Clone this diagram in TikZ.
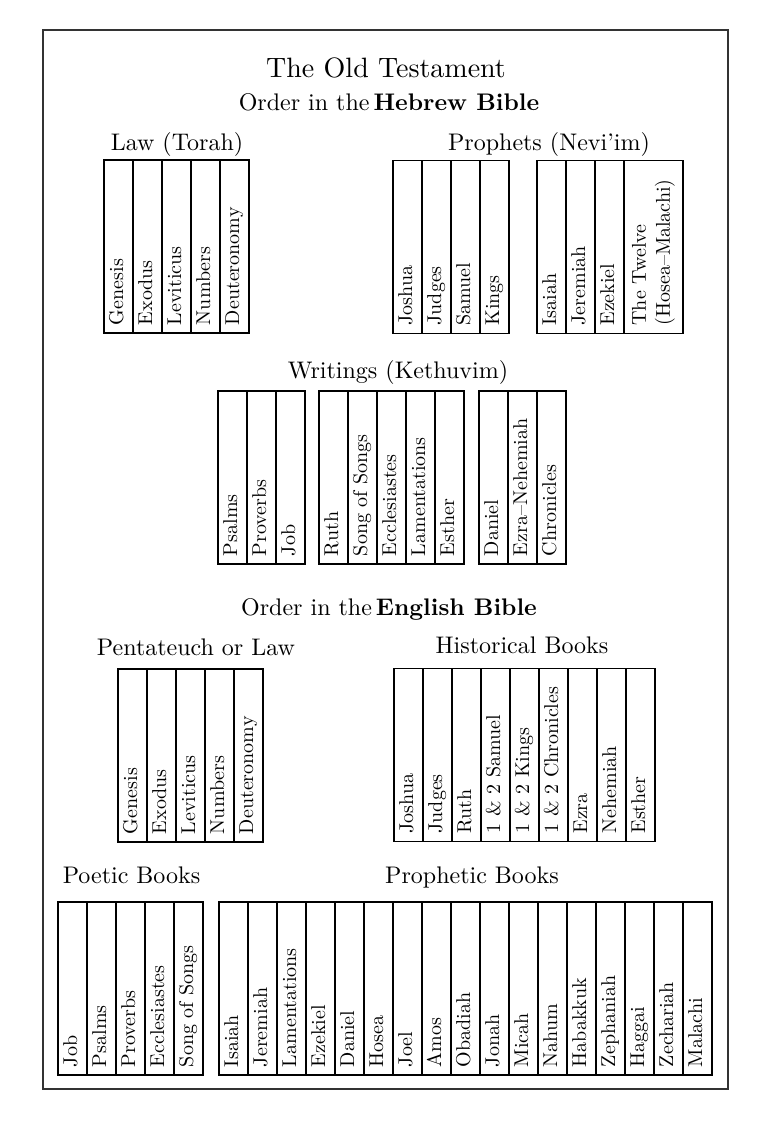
\documentclass[tikz,border=0pt]{standalone}
\usepackage{fontspec}
\setmainfont{lmroman10-regular.otf}[BoldFont=lmroman10-bold.otf]
\usepackage{tikz}

\tikzset{
  book/.style={draw, line width=1.5pt, rotate=90, minimum width=173pt, minimum height=29pt,
    inner xsep=8pt, inner ysep=0pt, text width=157pt, align=left,
    font=\fontsize{20}{24}\selectfont, text height=14pt, text depth=5pt},
  group/.style={anchor=base, font=\fontsize{24}{28}\selectfont}
}

\begin{document}
\begin{tikzpicture}[x=1pt, y=-1pt]
    \useasboundingbox (0,0) rectangle (771,1125);
    \draw[line width=1.8pt, black!80] (43,30) rectangle (728,1089);
    \node[anchor=base, font=\fontsize{28}{32}\selectfont] (title) at (386,77) {The Old Testament};
    \node[group] (hebrew) at (389,110) {Order in the\,\textbf{Hebrew Bible}};

    \node[group] (law) at (177,150) {Law (Torah)};
    \foreach \b [count=\i] in {Genesis,Exodus,Leviticus,Numbers,Deuteronomy}
        \node[book] (law\i) at ({104+29*\i-14.5},246.5) {\b};

    \node[group] (prophets) at (549,150) {Prophets (Nevi'im)};
    \foreach \b [count=\i] in {Joshua,Judges,Samuel,Kings}
        \node[book] (former\i) at ({393+29*\i-14.5},247) {\b};
    \foreach \b [count=\i] in {Isaiah,Jeremiah,Ezekiel}
        \node[book] (latter\i) at ({537+29*\i-14.5},247) {\b};
    \node[book, minimum height=59pt, text height={}, text depth={}] (latter4) at (653.5,247) {The Twelve\\(Hosea--Malachi)};

    \node[group] (writings) at (398,378) {Writings (Kethuvim)};
    \foreach \b [count=\i] in {Psalms,Proverbs,Job}
        \node[book] (poetry\i) at ({218+29*\i-14.5},477.5) {\b};
    \foreach \b [count=\i] in {Ruth,Song of Songs,Ecclesiastes,Lamentations,Esther}
        \node[book] (scroll\i) at ({319+29*\i-14.5},477.5) {\b};
    \foreach \b [count=\i] in {Daniel,Ezra--Nehemiah,Chronicles}
        \node[book] (other\i) at ({479+29*\i-14.5},477.5) {\b};

    \node[group] (english) at (389,615) {Order in the\,\textbf{English Bible}};

    \node[group] (penta) at (196,655) {Pentateuch or Law};
    \foreach \b [count=\i] in {Genesis,Exodus,Leviticus,Numbers,Deuteronomy}
        \node[book] (penta\i) at ({118+29*\i-14.5},755.5) {\b};

    \node[group] (history) at (522,653) {Historical Books};
    \foreach \b [count=\i] in {Joshua,Judges,Ruth,1 \& 2 Samuel,1 \& 2 Kings,1 \& 2 Chronicles,Ezra,Nehemiah,Esther}
        \node[book] (history\i) at ({394+29*\i-14.5},755) {\b};

    \node[group] (poetic) at (131.5,883) {Poetic Books};
    \foreach \b [count=\i] in {Job,Psalms,Proverbs,Ecclesiastes,Song of Songs}
        \node[book] (poetic\i) at ({58+29*\i-14.5},988.5) {\b};

    \node[group] (prophetic) at (472,883) {Prophetic Books};
    \foreach \b [count=\i] in {Isaiah,Jeremiah,Lamentations,Ezekiel,Daniel,Hosea,Joel,Amos,Obadiah,Jonah,Micah,Nahum,Habakkuk,Zephaniah,Haggai,Zechariah,Malachi}
        \node[book] (prophetic\i) at ({219+29*\i-14.5},988.5) {\b};
\end{tikzpicture}
\end{document}
